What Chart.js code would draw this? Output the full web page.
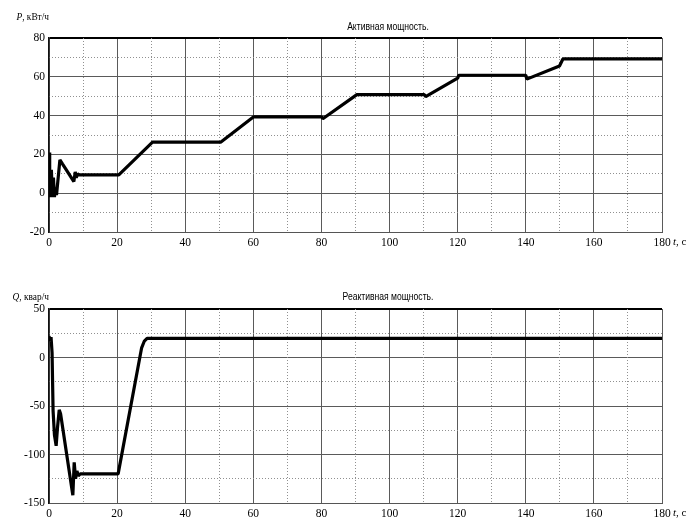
<!DOCTYPE html>
<html>
<head>
<meta charset="utf-8">
<script src="https://cdn.jsdelivr.net/npm/chart.js@4.4.0/dist/chart.umd.min.js"></script>
<style>
    html, body { margin: 0; padding: 0; background: #fff; }
    #wrap { position: relative; width: 699px; height: 518px; }
    #pWrap { position: absolute; left: 0; top: 0; width: 699px; height: 262px; }
    #qWrap { position: absolute; left: 0; top: 262px; width: 699px; height: 256px; }
</style>
</head>
<body>
<div id="wrap">
    <div id="pWrap"><canvas id="pChart" width="699" height="262"></canvas></div>
    <div id="qWrap"><canvas id="qChart" width="699" height="256"></canvas></div>
</div>
<script>
/* -------- Data: active power P (kW) vs time t (s) -------- */
const pTime  = [0, 0.2, 0.4, 0.7, 1.0, 1.3, 1.6, 1.9, 2.2, 3.2, 4.0, 7.3, 7.7, 8.0, 8.4, 8.8,
                20.5, 30.4, 50.4, 60.0, 80.1, 80.4, 90.4, 110.2, 110.6, 120.0, 120.3,
                140.0, 140.3, 149.9, 150.9, 180];
const pValue = [21, 5, -2, 12, -2, 8, -2, 3, -1, 17.2, 15, 6, 11, 8, 10, 9.4,
                9.4, 26.3, 26.3, 39.3, 39.3, 38.4, 50.8, 50.8, 49.8, 59.3, 60.8,
                60.8, 58.8, 65.6, 69.2, 69.2];

/* -------- Data: reactive power Q (kvar) vs time t (s) -------- */
const qTime  = [0, 0.3, 0.6, 0.9, 1.2, 1.6, 2.1, 2.5, 3.0, 3.4, 7.0, 7.4, 7.8, 8.2, 8.6, 9.2,
                20.3, 27.2, 28.0, 28.8, 180];
const qValue = [22, 17, 21, 5, -55, -80, -91, -72, -54, -58, -142, -108, -125, -117, -122, -120,
                -120, 10, 17, 19.8, 19.8];

/* -------- Axis ranges / ticks -------- */
const tRange = [0, 180];
const tMajor = 20;
const pRange = [-20, 80];
const pMajor = 20;
const qRange = [-150, 50];
const qMajor = 50;

/* -------- Styles -------- */
const TICK_FONT = { family: "'Liberation Serif', 'DejaVu Serif', serif", size: 11.5 };
const TITLE_FONT = "11px 'Liberation Sans', Arial, sans-serif";
const LABEL_FONT = "11px 'Liberation Serif', serif";
const LABEL_FONT_I = "italic 11px 'Liberation Serif', serif";
const GRID_SOLID = '#5a5a5a';
const GRID_DOT = '#909090';

/* -------- Text plugin (titles and axis captions) -------- */
const textPlugin = {
    id: 'extraText',
    afterDraw(chart, args, opts) {
        const ctx = chart.ctx;
        (opts.items || []).forEach(item => {
            const sx = item.sx || 1;
            ctx.save();
            ctx.fillStyle = '#000';
            ctx.textBaseline = 'middle';
            ctx.textAlign = 'left';
            let total = 0;
            item.runs.forEach(r => {
                ctx.font = r.font;
                total += ctx.measureText(r.text).width;
            });
            total *= sx;
            let x = item.x;
            if (item.align === 'right') x -= total;
            if (item.align === 'center') x -= total / 2;
            ctx.translate(x, item.y);
            ctx.scale(sx, 1);
            let cx = 0;
            item.runs.forEach(r => {
                ctx.font = r.font;
                ctx.fillText(r.text, cx, 0);
                cx += ctx.measureText(r.text).width;
            });
            ctx.restore();
        });
    }
};

function toPoints(xs, ys) {
    return xs.map((x, i) => ({ x: x, y: ys[i] }));
}

function minorAxis(axis, range, major, pos, fitProp) {
    return {
        type: 'linear',
        axis: axis,
        position: pos,
        min: range[0],
        max: range[1],
        ticks: { display: false, stepSize: major / 2, maxTicksLimit: 100 },
        grid: {
            drawTicks: false,
            color: c => (Math.abs(c.tick.value % major) < 1e-6 ? 'rgba(0,0,0,0)' : GRID_DOT),
            lineWidth: 1
        },
        border: { display: false, dash: [1, 2] },
        afterFit: s => { s[fitProp] = 0; }
    };
}

function buildChart(canvasId, xs, ys, yRange, yMajor, layout, texts) {
    const ctx = document.getElementById(canvasId).getContext('2d');
    return new Chart(ctx, {
        type: 'line',
        data: {
            datasets: [{
                data: toPoints(xs, ys),
                borderColor: '#000',
                borderWidth: 3.2,
                borderJoinStyle: 'bevel',
                pointRadius: 0,
                tension: 0,
                fill: false
            }]
        },
        options: {
            responsive: false,
            animation: false,
            events: [],
            layout: { padding: { left: 0, top: layout.top, right: 37, bottom: 0 } },
            plugins: {
                legend: { display: false },
                tooltip: { enabled: false },
                extraText: { items: texts }
            },
            scales: {
                x: {
                    type: 'linear',
                    position: 'bottom',
                    min: tRange[0],
                    max: tRange[1],
                    ticks: {
                        stepSize: tMajor,
                        font: TICK_FONT,
                        color: '#000',
                        padding: 4,
                        maxRotation: 0,
                        autoSkip: false
                    },
                    grid: {
                        drawTicks: false,
                        color: GRID_SOLID,
                        lineWidth: 1
                    },
                    border: { color: '#555', width: 1 },
                    afterFit: s => { s.height = layout.xAxisHeight; }
                },
                y: {
                    type: 'linear',
                    position: 'left',
                    min: yRange[0],
                    max: yRange[1],
                    ticks: {
                        stepSize: yMajor,
                        font: TICK_FONT,
                        color: '#000',
                        padding: 4
                    },
                    grid: {
                        drawTicks: false,
                        color: c => (c.tick.value === yRange[1] ? '#000' : GRID_SOLID),
                        lineWidth: c => (c.tick.value === yRange[1] ? 2 : 1)
                    },
                    border: { color: '#111', width: 1.5 },
                    afterFit: s => { s.width = 49; }
                },
                xMinor: minorAxis('x', tRange, tMajor, 'bottom', 'height'),
                yMinor: minorAxis('y', yRange, yMajor, 'left', 'width')
            }
        },
        plugins: [textPlugin]
    });
}

/* -------- Active power -------- */
buildChart('pChart', pTime, pValue, pRange, pMajor, { top: 38, xAxisHeight: 30 }, [
    { x: 388, y: 27, align: 'center', sx: 0.78, runs: [{ text: 'Активная мощность.', font: TITLE_FONT }] },
    { x: 49, y: 17, align: 'right', sx: 0.85, runs: [
        { text: 'P', font: LABEL_FONT_I }, { text: ', кВт/ч', font: LABEL_FONT }] },
    { x: 673, y: 242, align: 'left', runs: [
        { text: 't', font: LABEL_FONT_I }, { text: ', c', font: LABEL_FONT }] }
]);

/* -------- Reactive power -------- */
buildChart('qChart', qTime, qValue, qRange, qMajor, { top: 47, xAxisHeight: 15 }, [
    { x: 388, y: 35, align: 'center', sx: 0.78, runs: [{ text: 'Реактивная мощность.', font: TITLE_FONT }] },
    { x: 49, y: 35, align: 'right', sx: 0.85, runs: [
        { text: 'Q', font: LABEL_FONT_I }, { text: ', квар/ч', font: LABEL_FONT }] },
    { x: 673, y: 251, align: 'left', runs: [
        { text: 't', font: LABEL_FONT_I }, { text: ', c', font: LABEL_FONT }] }
]);
</script>
</body>
</html>
